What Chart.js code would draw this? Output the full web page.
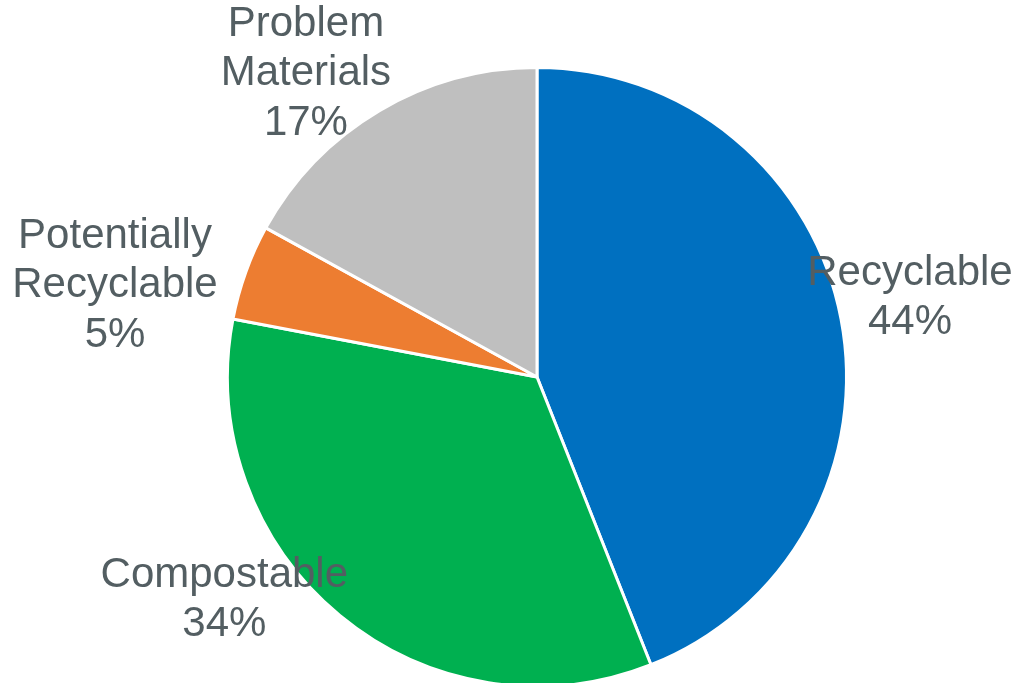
<!DOCTYPE html>
<html>
<head>
<meta charset="utf-8">
<script src="https://cdn.jsdelivr.net/npm/chart.js@4.4.1/dist/chart.umd.min.js"></script>
<style>
  html, body { margin: 0; padding: 0; background: #ffffff; }
  #wrap { width: 1017px; height: 683px; position: relative; }
</style>
</head>
<body>
<div id="wrap"><canvas id="pie"></canvas></div>
<script>
// Waste composition shares (percent)
const categories = ['Recyclable', 'Compostable', 'Potentially Recyclable', 'Problem Materials'];
const shares = [44, 34, 5, 17];
const labelLines = [['Recyclable'], ['Compostable'], ['Potentially', 'Recyclable'], ['Problem', 'Materials']];
const sliceColors = ['#0070C0', '#00B050', '#ED7D31', '#BFBFBF'];

// Where each label sits: distance from centre (in radii) and a turn away from the slice's mid-angle (degrees)
const labelRadius = [1.232, 1.241, 1.395, 1.232];
const labelTurn = [-1.2, 14.9, -7.6, -6.7];

const sliceLabels = {
  id: 'sliceLabels',
  afterDatasetsDraw(chart) {
    const ctx = chart.ctx;
    const arcs = chart.getDatasetMeta(0).data;
    ctx.save();
    ctx.font = '42px "Liberation Sans", Arial, sans-serif';
    ctx.fillStyle = '#535e62';
    ctx.textAlign = 'center';
    ctx.textBaseline = 'middle';
    const lineH = 49.5;
    arcs.forEach((arc, i) => {
      const p = arc.getProps(['x', 'y', 'startAngle', 'endAngle', 'outerRadius'], true);
      const a = (p.startAngle + p.endAngle) / 2 + labelTurn[i] * Math.PI / 180;
      const cx = p.x + Math.cos(a) * p.outerRadius * labelRadius[i];
      const cy = p.y + Math.sin(a) * p.outerRadius * labelRadius[i];
      const lines = labelLines[i].concat([shares[i] + '%']);
      const top = cy - (lines.length - 1) * lineH / 2;
      lines.forEach((t, j) => ctx.fillText(t, cx, top + j * lineH));
    });
    ctx.restore();
  }
};

new Chart(document.getElementById('pie'), {
  type: 'pie',
  data: {
    labels: categories,
    datasets: [{
      data: shares,
      backgroundColor: sliceColors,
      borderColor: '#ffffff',
      borderWidth: 3,
      clip: false
    }]
  },
  options: {
    responsive: true,
    maintainAspectRatio: false,
    animation: false,
    radius: 309.5,
    layout: { padding: { left: 57, right: 0, top: 71, bottom: 0 } },
    plugins: {
      legend: { display: false },
      tooltip: { enabled: false }
    }
  },
  plugins: [sliceLabels]
});
</script>
</body>
</html>
